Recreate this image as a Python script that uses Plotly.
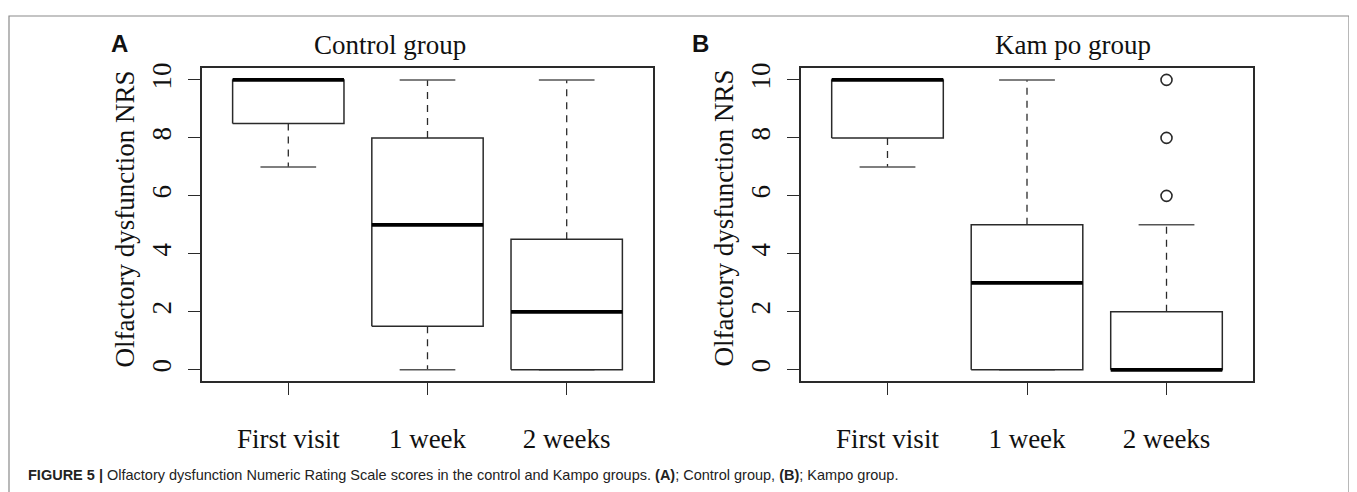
import plotly.graph_objects as go

# ---------------- data ----------------
categories = ["First visit", "1 week", "2 weeks"]

# Control group (panel A)
ctrl_low = [7, 0, 0]
ctrl_q1 = [8.5, 1.5, 0]
ctrl_median = [10, 5, 2]
ctrl_q3 = [10, 8, 4.5]
ctrl_high = [10, 10, 10]
ctrl_outliers = [[], [], []]

# Kampo group (panel B)
kampo_low = [7, 0, 0]
kampo_q1 = [8, 0, 0]
kampo_median = [10, 3, 0]
kampo_q3 = [10, 5, 2]
kampo_high = [10, 10, 5]
kampo_outliers = [[], [], [6, 8, 10]]

panel_titles = ["Control group", "Kam po group"]
panel_letters = ["A", "B"]
y_title = "Olfactory dysfunction NRS"
y_ticks = [0, 2, 4, 6, 8, 10]
caption = ("<b>FIGURE 5 |</b> Olfactory dysfunction Numeric Rating Scale scores in the control "
           "and Kampo groups. <b>(A)</b>; Control group, <b>(B)</b>; Kampo group.")

# ---------------- layout constants ----------------
OFF = 8  # default body margin of the html page
W, H = 1357 - OFF, 492 - OFF
LINE = "#2a2a2a"
SERIF = "Liberation Serif"
HALF_BOX = 0.4
HALF_STAPLE = 0.2


def px(x):
    return (x - OFF) / W


def py(y):
    return 1 - (y - OFF) / H


fig = go.Figure()


def add_panel(xa, ya, low, q1, med, q3, high, outl):
    bx, by, mx, my, wx, wy, sx, sy, ox, oy = [], [], [], [], [], [], [], [], [], []
    for i in range(len(categories)):
        c = i + 1
        bx += [c - HALF_BOX, c + HALF_BOX, c + HALF_BOX, c - HALF_BOX, c - HALF_BOX, None]
        by += [q1[i], q1[i], q3[i], q3[i], q1[i], None]
        mx += [c - HALF_BOX, c + HALF_BOX, None]
        my += [med[i], med[i], None]
        wx += [c, c, None, c, c, None]
        wy += [q1[i], low[i], None, q3[i], high[i], None]
        sx += [c - HALF_STAPLE, c + HALF_STAPLE, None, c - HALF_STAPLE, c + HALF_STAPLE, None]
        sy += [low[i], low[i], None, high[i], high[i], None]
        for v in outl[i]:
            ox.append(c)
            oy.append(v)
    common = dict(xaxis=xa, yaxis=ya, showlegend=False, hoverinfo="skip", mode="lines")
    fig.add_trace(go.Scatter(x=wx, y=wy, line=dict(color=LINE, width=1.3, dash="7px,6px"), **common))
    fig.add_trace(go.Scatter(x=sx, y=sy, line=dict(color="#555555", width=1.5), **common))
    fig.add_trace(go.Scatter(x=bx, y=by, line=dict(color=LINE, width=1.5), **common))
    fig.add_trace(go.Scatter(x=mx, y=my, line=dict(color="#000000", width=3.8), **common))
    if ox:
        fig.add_trace(go.Scatter(x=ox, y=oy, mode="markers", xaxis=xa, yaxis=ya, showlegend=False,
                                 hoverinfo="skip",
                                 marker=dict(symbol="circle-open", size=11,
                                             line=dict(color=LINE, width=1.6), color=LINE)))


add_panel("x", "y", ctrl_low, ctrl_q1, ctrl_median, ctrl_q3, ctrl_high, ctrl_outliers)
add_panel("x2", "y2", kampo_low, kampo_q1, kampo_median, kampo_q3, kampo_high, kampo_outliers)

y0p, y1p = py(380), py(63)
panels = [(202, 653), (801, 1253)]

xaxis_common = dict(range=[0.38, 3.62], tickvals=[1, 2, 3], ticktext=categories,
                    ticks="outside", ticklen=12, tickwidth=1.3, tickcolor=LINE,
                    showline=True, mirror=True, linecolor=LINE, linewidth=1.5,
                    showgrid=False, zeroline=False, ticklabelstandoff=20,
                    tickfont=dict(family=SERIF, size=27, color="#111111"))
yaxis_common = dict(range=[-0.4, 10.4], tickvals=y_ticks, ticks="outside", ticklen=12,
                    tickwidth=1.3, tickcolor=LINE, tickangle=-90,
                    showline=True, mirror=True, linecolor=LINE, linewidth=1.5,
                    showgrid=False, zeroline=False, ticklabelstandoff=6,
                    tickfont=dict(family=SERIF, size=27, color="#111111"))

fig.update_layout(
    width=W, height=H,
    margin=dict(l=0, r=0, t=0, b=0),
    paper_bgcolor="white", plot_bgcolor="white",
    xaxis=dict(domain=[px(panels[0][0]), px(panels[0][1])], anchor="y", **xaxis_common),
    yaxis=dict(domain=[y0p, y1p], anchor="x", **yaxis_common),
    xaxis2=dict(domain=[px(panels[1][0]), px(panels[1][1])], anchor="y2", **xaxis_common),
    yaxis2=dict(domain=[y0p, y1p], anchor="x2", **yaxis_common),
)

annotations = []
title_x = [390, 1073]
letter_x = [119, 700]
ytitle_x = [125, 724]
for k in range(2):
    annotations.append(dict(text=panel_titles[k], x=px(title_x[k]), y=py(39), xref="paper", yref="paper",
                            xanchor="center", yanchor="middle", showarrow=False,
                            font=dict(family=SERIF, size=27, color="#111111")))
    annotations.append(dict(text="<b>%s</b>" % panel_letters[k], x=px(letter_x[k]), y=py(38),
                            xref="paper", yref="paper", xanchor="center", yanchor="middle", showarrow=False,
                            font=dict(family="Liberation Sans", size=24, color="#111111")))
    annotations.append(dict(text=y_title, x=px(ytitle_x[k]), y=py(215), xref="paper",
                            yref="paper", xanchor="center", yanchor="middle", textangle=-90,
                            showarrow=False, font=dict(family=SERIF, size=27, color="#111111")))
annotations.append(dict(text=caption, x=px(26), y=py(475), xref="paper", yref="paper",
                        xanchor="left", yanchor="middle", showarrow=False,
                        font=dict(family="Liberation Sans", size=14.5, color="#222222")))
fig.update_layout(annotations=annotations)

fig.add_shape(type="rect", xref="paper", yref="paper", x0=px(9), x1=px(1349), y0=-0.05, y1=py(10),
              line=dict(color="#8a8a8a", width=1.2), fillcolor="rgba(0,0,0,0)", layer="below")

fig.write_html("out.html")
